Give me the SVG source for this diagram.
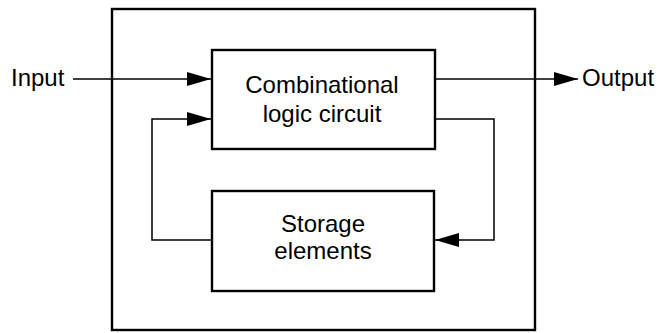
<svg xmlns="http://www.w3.org/2000/svg" width="658" height="333" viewBox="0 0 658 333">
<style>
.box{fill:none;stroke:#000;stroke-width:2.4}
.wire{fill:none;stroke:#000;stroke-width:1.5}
.t{font-family:"Liberation Sans",Arial,Helvetica,sans-serif;font-size:24px;fill:#000}
.c{text-anchor:middle}
</style>
<defs>
<marker id="ah" viewBox="0 0 24 14" refX="24" refY="7" markerWidth="24" markerHeight="14" markerUnits="userSpaceOnUse" orient="auto">
<path d="M0,0 L24,7 L0,14 Z" fill="#000"/>
</marker>
</defs>
<g id="system">
<rect class="box" x="112" y="9" width="423" height="321"/>
</g>
<g id="combinational">
<rect class="box" x="212" y="50" width="223" height="99"/>
<text class="t c" x="322" y="93">Combinational</text>
<text class="t c" x="322" y="122">logic circuit</text>
</g>
<g id="storage">
<rect class="box" x="212" y="191" width="222" height="100"/>
<text class="t c" x="323" y="232">Storage</text>
<text class="t c" x="323" y="259">elements</text>
</g>
<g id="input">
<text class="t" x="11" y="86">Input</text>
</g>
<g id="output">
<text class="t" x="582" y="86">Output</text>
</g>
<g id="connectors">
<line class="wire" x1="73" y1="79" x2="211" y2="79" marker-end="url(#ah)"/>
<line class="wire" x1="435" y1="79" x2="578" y2="79" marker-end="url(#ah)"/>
<polyline class="wire" points="435,119 494,119 494,240 435,240" marker-end="url(#ah)"/>
<polyline class="wire" points="212,240 152,240 152,119 211,119" marker-end="url(#ah)"/>
</g>
</svg>
